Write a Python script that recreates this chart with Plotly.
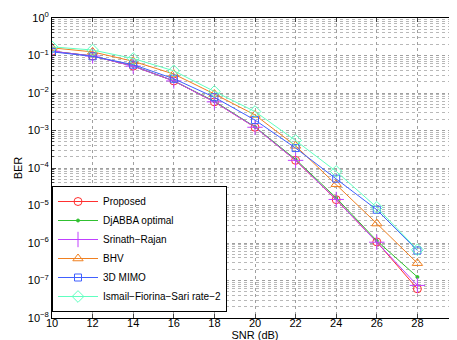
import plotly.graph_objects as go

# SNR points (dB)
snr = [10, 12, 14, 16, 18, 20, 22, 24, 26, 28]

# BER curves
ber_proposed = [0.13, 0.097, 0.052, 0.021, 0.0058, 1.22e-3, 1.6e-4, 1.43e-5, 1.07e-6, 6.0e-8]
ber_djabba = [0.13, 0.097, 0.053, 0.021, 0.0060, 1.25e-3, 1.7e-4, 1.6e-5, 1.15e-6, 1.24e-7]
ber_srinath = [0.13, 0.097, 0.052, 0.021, 0.0058, 1.22e-3, 1.6e-4, 1.45e-5, 1.05e-6, 7.4e-8]
ber_bhv = [0.16, 0.125, 0.070, 0.032, 0.0094, 2.6e-3, 3.9e-4, 3.7e-5, 3.3e-6, 2.9e-7]
ber_mimo = [0.125, 0.095, 0.057, 0.024, 0.0077, 1.9e-3, 3.4e-4, 5.2e-5, 7.7e-6, 6.3e-7]
ber_ismail = [0.17, 0.14, 0.083, 0.039, 0.011, 3.2e-3, 5.4e-4, 8.1e-5, 8.9e-6, 6.6e-7]

x_ticks = [10, 12, 14, 16, 18, 20, 22, 24, 26, 28, 30]
y_ticks = [1e-8, 1e-7, 1e-6, 1e-5, 1e-4, 1e-3, 1e-2, 1e-1, 1]
y_labels = ["10<sup>\u22128</sup>", "10<sup>\u22127</sup>", "10<sup>\u22126</sup>", "10<sup>\u22125</sup>",
            "10<sup>\u22124</sup>", "10<sup>\u22123</sup>", "10<sup>\u22122</sup>", "10<sup>\u22121</sup>",
            "10<sup>0</sup>"]

series = [
    ("Proposed", ber_proposed, "#ff3030", "circle-open", 8),
    ("DjABBA optimal", ber_djabba, "#30c030", "circle", 3),
    ("Srinath\u2212Rajan", ber_srinath, "#c040ff", "cross-thin-open", 11),
    ("BHV", ber_bhv, "#f08020", "triangle-up-open", 9),
    ("3D MIMO", ber_mimo, "#4060ff", "square-open", 7),
    ("Ismail\u2212Fiorina\u2212Sari rate\u22122", ber_ismail, "#60ffc0", "diamond-open", 9),
]

fig = go.Figure()

for name, ber, color, symbol, size in series:
    fig.add_trace(go.Scatter(
        x=snr,
        y=ber,
        mode='lines+markers',
        name=name,
        line=dict(color=color, width=1),
        marker=dict(symbol=symbol, size=size, color=color, line=dict(color=color, width=1)),
    ))

axis_font = dict(family="Liberation Sans, Arial, sans-serif", size=11, color="black")

fig.update_layout(
    width=457,
    height=340,
    margin=dict(l=44, r=7, t=10, b=30, autoexpand=False),
    paper_bgcolor="white",
    plot_bgcolor="white",
    font=axis_font,
    showlegend=True,
    legend=dict(
        x=0.0, y=0.02, xanchor='left', yanchor='bottom',
        bgcolor="white", bordercolor="black", borderwidth=1,
        font=dict(family="Liberation Sans, Arial, sans-serif", size=10, color="black"),
        itemwidth=40,
        tracegroupgap=0,
    ),
    xaxis=dict(
        title=dict(text="SNR (dB)", standoff=0, font=axis_font),
        range=[10, 30],
        tickvals=x_ticks,
        ticks='inside', ticklen=4,
        ticklabelstandoff=-5,
        automargin=False,
        showline=True, linecolor="black", linewidth=1, mirror='ticks',
        showgrid=True, gridcolor="#a0a0a0", griddash="dot", gridwidth=1,
        zeroline=False,
    ),
    yaxis=dict(
        title=dict(text="BER", standoff=2, font=axis_font),
        type='log',
        range=[-8, 0],
        tickvals=y_ticks,
        ticktext=y_labels,
        ticks='inside', ticklen=4,
        automargin=False,
        showline=True, linecolor="black", linewidth=1, mirror='ticks',
        showgrid=True, gridcolor="#a0a0a0", griddash="dot", gridwidth=1,
        minor=dict(dtick="D1", ticks='inside', ticklen=2, showgrid=True,
                   gridcolor="#b8b8b8", griddash="dot", gridwidth=1),
        zeroline=False,
    ),
)

fig.write_html("out.html")
